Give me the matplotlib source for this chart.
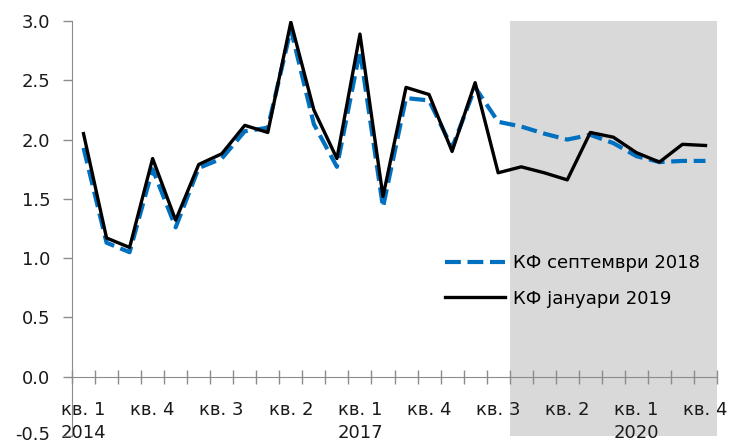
import matplotlib
matplotlib.use("Agg")
import matplotlib.pyplot as plt
import matplotlib.transforms as mtransforms
import numpy as np

plt.rcParams['font.family'] = ['DejaVu Sans']

quarters = [f"кв. {q}" for y in range(2014, 2021) for q in range(1, 5)]
years = [str(y) for y in range(2014, 2021) for q in range(1, 5)]

kf_sep2018 = [1.93, 1.13, 1.05, 1.75, 1.26, 1.76, 1.84, 2.07, 2.10, 2.93,
              2.13, 1.77, 2.75, 1.43, 2.35, 2.33, 1.93, 2.44, 2.15, 2.11,
              2.05, 2.00, 2.04, 1.97, 1.86, 1.81, 1.82, 1.82]
kf_jan2019 = [2.05, 1.17, 1.09, 1.84, 1.32, 1.79, 1.88, 2.12, 2.06, 2.99,
              2.25, 1.84, 2.89, 1.52, 2.44, 2.38, 1.90, 2.48, 1.72, 1.77,
              1.72, 1.66, 2.06, 2.02, 1.89, 1.81, 1.96, 1.95]
label_names = ["КФ септември 2018", "КФ јануари 2019"]
forecast_start = 19  # index of first shaded quarter

W, H = 731, 445
fig = plt.figure(figsize=(W/100, H/100), dpi=100)
ax = fig.add_axes([72/W, (H-436)/H, 645/W, 415/H])

n = len(kf_jan2019)
x = np.arange(n) + 0.5

ax.axvspan(forecast_start, n, ymin=0, ymax=1, color='#d9d9d9', lw=0, zorder=0)

ax.plot(x, kf_sep2018, color='#0070C0', lw=3.0, dashes=(3.8, 1.6),
        dash_capstyle='butt', label=label_names[0], zorder=3)
ax.plot(x, kf_jan2019, color='black', lw=2.4, label=label_names[1], zorder=4)

ax.set_xlim(0, n)
ax.set_ylim(-0.5, 3.0)

axis_col = '#8c8c8c'
for s in ['top', 'right']:
    ax.spines[s].set_visible(False)
ax.spines['left'].set_color(axis_col)
ax.spines['bottom'].set_color(axis_col)
ax.spines['bottom'].set_position(('data', 0))
ax.spines['left'].set_zorder(5)
ax.spines['bottom'].set_zorder(5)

yt = np.arange(-0.5, 3.01, 0.5)
ax.set_yticks(yt)
ax.set_yticklabels([f"{v:.1f}" for v in yt])
ax.tick_params(axis='y', direction='out', length=6.5, width=1, color=axis_col,
               labelsize=13, pad=9, labelcolor='#1a1a1a')

ax.set_xticks(np.arange(0, n + 1))
ax.set_xticklabels([])
ax.tick_params(axis='x', which='major', direction='inout', length=10, width=1,
               color=axis_col)
lab_idx = list(range(0, n, 3))
ax.set_xticks(x[lab_idx], minor=True)
labels = []
for i in lab_idx:
    if quarters[i].endswith("1"):
        labels.append(quarters[i] + "\n" + years[i])
    else:
        labels.append(quarters[i])
ax.set_xticklabels(labels, minor=True, linespacing=1.35)
ax.tick_params(axis='x', which='minor', length=0, labelsize=13, pad=17.5,
               labelcolor='#1a1a1a')

# nudge the lowest y label up slightly, as in the reference
fig.canvas.draw()
lowest = ax.get_yticklabels()[0]
lowest.set_transform(lowest.get_transform() +
                     mtransforms.ScaledTranslation(0, 3/100, fig.dpi_scale_trans))

leg = ax.legend(loc='center left', bbox_to_anchor=(445/W, 1 - 281/H),
                bbox_transform=fig.transFigure, frameon=False, fontsize=13,
                handlelength=3.3, handletextpad=0.45, labelspacing=0.95,
                borderpad=0, borderaxespad=0)

fig.savefig("out.png", dpi=100)
